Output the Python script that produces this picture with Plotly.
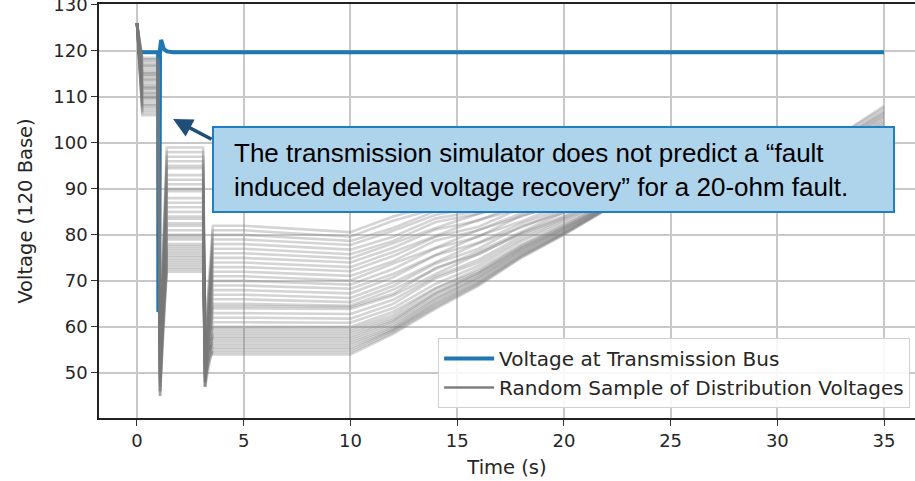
import plotly.graph_objects as go

# ---- Transmission bus voltage (blue) ----
T_BUS = [0.0, 0.99, 1.0, 1.04, 1.08, 1.13, 1.18, 1.26, 1.4, 1.7, 35.0]
V_BUS = [119.7, 119.7, 63.3, 63.5, 120.5, 122.4, 121.6, 120.4, 119.9, 119.7, 119.7]

# ---- Distribution voltages (gray), read at shared times ----
T_GRAY = [0.0, 0.25, 1.0, 1.08, 1.4, 3.1, 3.19, 3.55, 5.0,
          10, 12, 14, 16, 18, 20, 22, 25, 28, 31, 33, 35]
START_V = 126.0
PRE_FAULT = [118.5, 118, 117.5, 117, 116.5, 116, 115.5, 115, 114.5, 114, 113.5, 113,
             112.5, 112, 111.5, 111, 110.5, 110, 109.5, 109, 108.5, 108, 107.5, 107,
             106.5, 106, 110.8, 112.2, 113.8, 115.2, 116.8, 118.2, 111.8, 109.8, 108.2, 114.8]
DIP1 = [60, 52, 47, 58, 45, 55, 50, 62, 48, 56, 46, 53, 59, 49, 57, 51, 45, 54,
        61, 47, 52, 58, 46, 50, 55, 48, 60, 53, 45, 57, 49, 62, 51, 46, 56, 54]
PHASE2 = [99, 98, 97, 96, 95, 94.5, 93, 92, 91, 90, 89.5, 88, 87, 86, 85, 84, 83.5, 82.5,
          82, 81, 80, 79.5, 79, 78, 77, 76.5, 76, 75.5, 75, 74.5, 74, 73.5, 73, 72.5, 72, 77.5]
DIP2 = [58, 50, 47, 55, 48, 60, 52, 47, 57, 49, 54, 51, 59, 48, 53, 56, 47, 50,
        58, 52, 49, 55, 47, 53, 60, 48, 51, 57, 50, 54, 47, 56, 49, 52, 58, 48]
PHASE3 = [82, 81, 80, 79, 78, 77, 76, 75, 74, 73, 72, 71, 70, 69, 68, 67, 66, 65,
          64.5, 64, 63, 62, 61, 60, 59.5, 59, 58, 57.5, 57, 56.5, 56, 55.5, 55, 54.5, 54, 58.5]
# recovery values at t = 10, 12, 14, 16, 18, 20, 22, 25, 28, 31, 33, 35
RECOVERY = [
    [80.6, 84.0, 86.5, 88.5, 90.5, 92.0, 93.5, 95.5, 98.0, 100.0, 102.0, 108.0],
    [79.6, 83.1, 85.7, 87.8, 89.9, 91.6, 93.2, 95.3, 97.8, 99.8, 101.8, 107.5],
    [78.7, 81.5, 85.2, 86.8, 89.6, 90.9, 93.1, 94.7, 97.4, 99.2, 101.3, 106.9],
    [77.8, 80.9, 84.4, 86.0, 89.0, 90.4, 92.8, 94.5, 97.6, 99.1, 101.0, 106.6],
    [76.8, 79.6, 83.6, 85.2, 88.5, 89.9, 92.6, 94.2, 97.3, 98.9, 100.8, 106.2],
    [75.8, 78.7, 82.8, 84.6, 87.9, 89.5, 92.3, 94.0, 96.6, 98.7, 100.5, 105.8],
    [74.9, 78.2, 81.5, 84.6, 86.8, 89.7, 91.5, 94.3, 96.4, 98.6, 100.2, 105.5],
    [74.0, 77.2, 81.2, 83.1, 86.9, 88.6, 91.7, 93.6, 96.2, 98.4, 100.0, 105.0],
    [73.0, 76.3, 79.8, 83.3, 85.7, 88.8, 90.9, 93.8, 96.0, 98.2, 99.8, 104.6],
    [72.1, 75.4, 79.6, 81.8, 85.8, 87.7, 91.1, 93.1, 95.8, 98.0, 99.5, 104.2],
    [71.1, 74.3, 78.8, 81.0, 84.7, 87.9, 90.4, 93.0, 95.6, 97.9, 99.3, 103.8],
    [70.1, 73.8, 77.2, 81.1, 84.0, 87.1, 90.6, 92.6, 95.4, 97.6, 99.1, 103.5],
    [69.2, 72.6, 77.1, 79.6, 84.2, 86.5, 89.8, 92.5, 95.1, 97.5, 98.8, 103.1],
    [68.3, 71.5, 75.7, 79.8, 82.9, 86.6, 89.5, 92.2, 94.9, 97.3, 98.6, 102.8],
    [67.3, 70.8, 75.6, 78.3, 82.5, 85.8, 89.7, 92.0, 94.7, 97.1, 98.4, 102.5],
    [66.3, 69.7, 74.1, 78.2, 81.6, 85.4, 89.0, 91.8, 94.6, 96.9, 98.2, 102.2],
    [65.4, 68.9, 73.8, 77.0, 81.9, 84.8, 88.6, 91.5, 94.4, 96.8, 98.0, 101.9],
    [64.6, 68.1, 72.6, 76.4, 80.7, 84.9, 88.2, 91.3, 94.1, 96.6, 97.8, 101.6],
    [64.3, 67.2, 72.9, 75.8, 80.4, 84.1, 88.7, 91.0, 94.0, 96.4, 97.6, 101.3],
    [63.9, 66.8, 71.5, 75.9, 80.2, 83.8, 88.1, 91.1, 93.8, 96.2, 97.4, 101.0],
    [62.8, 65.9, 71.0, 74.6, 79.7, 83.5, 87.6, 90.8, 93.6, 96.0, 97.2, 100.8],
    [61.8, 65.0, 70.6, 74.0, 79.1, 83.2, 87.3, 90.5, 93.4, 95.8, 97.0, 100.6],
    [60.9, 64.1, 69.4, 73.3, 78.6, 82.7, 87.1, 90.2, 93.2, 95.6, 96.8, 100.4],
    [60.0, 63.3, 68.5, 72.6, 77.9, 82.2, 86.8, 90.0, 93.0, 95.4, 96.6, 100.2],
    [59.5, 62.6, 68.3, 72.1, 77.6, 82.0, 86.6, 89.9, 92.8, 95.3, 96.5, 100.1],
    [59.0, 62.0, 67.6, 71.8, 77.3, 81.7, 86.4, 89.7, 92.6, 95.2, 96.4, 100.0],
    [58.0, 61.2, 67.0, 71.3, 76.9, 81.4, 86.2, 89.6, 92.5, 95.0, 96.3, 99.9],
    [57.5, 60.8, 66.4, 70.9, 76.6, 81.2, 86.1, 89.5, 92.4, 95.0, 96.2, 99.8],
    [57.0, 60.3, 66.1, 70.7, 76.4, 81.0, 86.0, 89.4, 92.4, 94.9, 96.2, 99.7],
    [56.5, 59.9, 65.7, 70.4, 76.1, 80.8, 85.9, 89.3, 92.3, 94.9, 96.1, 99.6],
    [56.0, 59.6, 65.3, 70.0, 75.8, 80.6, 85.8, 89.2, 92.2, 94.8, 96.0, 99.5],
    [55.5, 59.3, 65.0, 69.7, 75.6, 80.4, 85.7, 89.2, 92.2, 94.7, 96.0, 99.4],
    [55.0, 59.2, 64.6, 69.5, 75.4, 80.3, 85.6, 89.1, 92.1, 94.7, 95.9, 99.3],
    [54.5, 58.8, 64.3, 69.2, 75.2, 80.2, 85.6, 89.1, 92.1, 94.6, 95.9, 99.2],
    [54.0, 58.5, 64.0, 69.0, 75.0, 80.0, 85.5, 89.0, 92.0, 94.5, 95.8, 99.0],
    [58.5, 61.5, 67.3, 71.6, 77.1, 81.5, 86.3, 89.6, 92.5, 95.1, 96.3, 99.9],
]

X_TICKS = [0, 5, 10, 15, 20, 25, 30, 35]
Y_TICKS = [50, 60, 70, 80, 90, 100, 110, 120, 130]

NAME_BUS = "Voltage at Transmission Bus"
NAME_DIST = "Random Sample of Distribution Voltages"
NOTE = ("The transmission simulator does not predict a \u201cfault<br>"
        "induced delayed voltage recovery\u201d for a 20-ohm fault.")

BLUE = "#1f77b4"
GRAY = "rgba(120,120,120,0.32)"

fig = go.Figure()

fig.add_trace(go.Scatter(x=T_BUS, y=V_BUS, mode="lines", name=NAME_BUS,
                         line=dict(color=BLUE, width=4), legendgroup="a"))

for i in range(len(PHASE3)):
    row = [START_V, PRE_FAULT[i], PRE_FAULT[i], DIP1[i], PHASE2[i], PHASE2[i],
           DIP2[i], PHASE3[i], PHASE3[i]] + RECOVERY[i]
    fig.add_trace(go.Scatter(x=T_GRAY, y=row, mode="lines", showlegend=False,
                             line=dict(color=GRAY, width=2.6), hoverinfo="skip"))

fig.add_trace(go.Scatter(x=[None], y=[None], mode="lines", name=NAME_DIST,
                         line=dict(color="#7f7f7f", width=2.5), legendgroup="b"))

# plot area in pixels: left 99, right 915, top 4, bottom 418
fig.update_layout(
    width=915, height=481,
    margin=dict(l=99, r=0, t=4, b=63, autoexpand=False),
    paper_bgcolor="white", plot_bgcolor="white",
    font=dict(family="DejaVu Sans", size=18, color="#262626"),
    showlegend=True,
    legend=dict(x=0.994, y=0.024, xanchor="right", yanchor="bottom",
                bgcolor="rgba(255,255,255,0.85)", bordercolor="#d0d0d0", borderwidth=1,
                font=dict(family="DejaVu Sans", size=20, color="#262626"),
                itemwidth=50, tracegroupgap=8, traceorder="normal"),
)
fig.update_xaxes(range=[-1.78, 36.45], tickvals=X_TICKS, ticks="outside", ticklen=6,
                 tickcolor="#333", showline=True, linecolor="#222", linewidth=1.5,
                 mirror=True, showgrid=True, gridcolor="#c8c8c8", gridwidth=1.5,
                 zeroline=False, automargin=False,
                 title=dict(text="Time (s)", standoff=10,
                            font=dict(family="DejaVu Sans", size=19.5, color="#262626")))
fig.update_yaxes(range=[40.2, 130.2], tickvals=Y_TICKS, ticks="outside", ticklen=6,
                 tickcolor="#333", showline=True, linecolor="#222", linewidth=1.5,
                 showgrid=True, gridcolor="#c8c8c8", gridwidth=1.5,
                 zeroline=False, automargin=False, ticklabeloverflow="allow",
                 title=dict(text="Voltage (120 Base)", standoff=15,
                            font=dict(family="DejaVu Sans", size=19.5, color="#262626")))

# callout box
fig.add_shape(type="rect", xref="paper", yref="paper",
              x0=(213 - 99) / 816, x1=(894 - 99) / 816,
              y0=(418 - 212) / 414, y1=(418 - 127) / 414,
              fillcolor="#aed4ec", line=dict(color="#1f7fc4", width=2), layer="above")
fig.add_annotation(xref="paper", yref="paper", x=(232 - 99) / 816, y=(418 - 169.5) / 414,
                   xanchor="left", yanchor="middle", align="left", showarrow=False,
                   text=NOTE, font=dict(family="Liberation Sans", size=26, color="black"))
fig.add_annotation(x=1.69, y=105.2, ax=40, ay=21, text="", showarrow=True,
                   arrowhead=2, arrowsize=1.1, arrowwidth=3.5, arrowcolor="#1f4e79",
                   standoff=0, startstandoff=0)

fig.write_html("out.html", config={"displayModeBar": False},
               post_script="document.body.style.margin='0';document.body.style.overflow='hidden';")
